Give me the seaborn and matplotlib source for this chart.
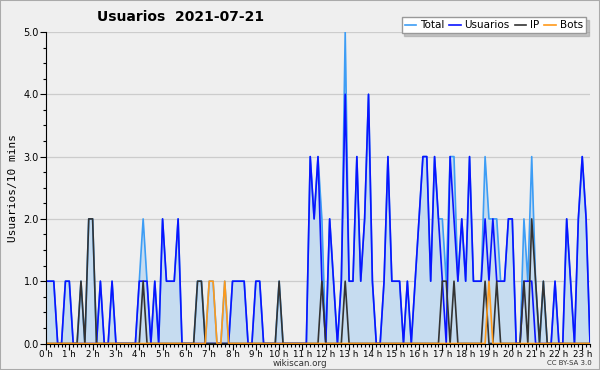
import numpy as np
import pandas as pd
import seaborn as sns
import matplotlib.pyplot as plt
from matplotlib.patches import Rectangle

# one value per 10 minutes, 00:00 .. 23:20
usuarios = [1, 1, 1, 0, 0, 1, 1, 0, 0, 0, 0, 0, 0, 0, 1, 0, 0, 1, 0, 0, 0, 0, 0, 0,   # 0-4h
            1, 1, 1, 0, 1, 0, 2, 1, 1, 1, 2, 0, 0, 0, 0, 0, 0, 0, 0, 0, 0, 0, 0, 0,   # 4-8h
            1, 1, 1, 1, 0, 0, 1, 1, 0, 0, 0, 0, 0, 0, 0, 0, 0, 0, 0, 0, 3, 2, 3, 1,   # 8-12h
            0, 2, 1, 0, 1, 4, 1, 1, 3, 1, 2, 4, 1, 0, 0, 1, 3, 1, 1, 1, 0, 1, 0, 1,   # 12-16h
            2, 3, 3, 1, 3, 2, 1, 0, 3, 2, 1, 2, 1, 3, 1, 1, 1, 2, 1, 2, 1, 1, 1, 2,   # 16-20h
            2, 0, 0, 1, 1, 1, 0, 0, 0, 0, 0, 1, 0, 0, 2, 1, 0, 2, 3, 2, 0]            # 20-23:20h
ip = [0] * 141
bots = [0] * 141
for i, v in [(9, 1), (11, 2), (12, 2), (25, 1), (39, 1), (40, 1), (60, 1), (71, 1), (77, 1),
             (102, 1), (103, 1), (105, 1), (113, 1), (116, 1), (123, 1), (125, 2), (126, 1), (128, 1)]:
    ip[i] = v
for i in [42, 43, 46, 114]:
    bots[i] = 1

hour_labels = [f"{h} h" for h in range(24)]

df = pd.DataFrame({"t": np.arange(len(usuarios)), "Usuarios": usuarios, "IP": ip, "Bots": bots})
df["Total"] = df["Usuarios"] + df["IP"] + df["Bots"]

bg = "#efefef"
plt.rcParams["font.family"] = ["DejaVu Sans"]
fig = plt.figure(figsize=(6, 3.7), dpi=100, facecolor=bg)
ax = fig.add_axes([46 / 600, 1 - 343.5 / 370, 544 / 600, 311.5 / 370], facecolor=bg)

ax.fill_between(df["t"], df["Total"], color="#c6dcf0", lw=0)
colors = {"Total": "#3d9df5", "Usuarios": "#0a14ff", "IP": "#333333", "Bots": "#ff9a1a"}
for col in ["Total", "Usuarios", "IP", "Bots"]:
    sns.lineplot(data=df, x="t", y=col, ax=ax, color=colors[col], lw=1.2, label=col)

ax.set_xlim(0, 140)
ax.set_ylim(0, 5)
ax.set_xticks(np.arange(0, 141, 6))
ax.set_xticklabels(hour_labels)
ax.set_xticks(np.arange(0, 141, 1), minor=True)
ax.set_yticks(np.arange(0, 6, 1))
ax.set_yticklabels([f"{v:.1f}" for v in range(6)])
ax.set_yticks(np.arange(0, 5.01, 0.25), minor=True)
ax.tick_params(axis="y", which="major", labelsize=7, length=4, width=0.8, pad=1)
ax.tick_params(axis="x", which="major", labelsize=6.3, length=4, width=0.8, pad=0.5)
ax.tick_params(axis="both", which="minor", length=2.5, width=0.8)
ax.grid(axis="y", color="#cccccc", lw=0.9)
ax.set_axisbelow(True)
for s in ["top", "right"]:
    ax.spines[s].set_visible(False)
for s in ["left", "bottom"]:
    ax.spines[s].set_zorder(5)
ax.set_xlabel("")
ax.set_ylabel("Usuarios/10 mins", family="DejaVu Sans Mono", fontsize=8, labelpad=4)

ax.legend(ncol=4, loc="upper right", bbox_to_anchor=(591 / 600, 1 - 12 / 370),
          bbox_transform=fig.transFigure, fontsize=7.5, handlelength=1.1, handletextpad=0.35,
          columnspacing=0.5, borderpad=0.3, fancybox=False, shadow={"color": "#999999"},
          framealpha=1, facecolor="white", edgecolor="#999999")

fig.text(97 / 600, 1 - 17 / 370, "Usuarios  2021-07-21", fontsize=10, fontweight="bold", va="center")
fig.text(300 / 600, 1 - 363 / 370, "wikiscan.org", fontsize=6.3, ha="center", va="center", color="#333333")
fig.text(592 / 600, 1 - 363 / 370, "CC BY-SA 3.0", fontsize=5, ha="right", va="center", color="#333333")
fig.patches.append(Rectangle((0, 0), 1, 1, transform=fig.transFigure, fill=False,
                             edgecolor="#aaaaaa", lw=1.5))

plt.savefig("out.png", dpi=100, facecolor=bg)
